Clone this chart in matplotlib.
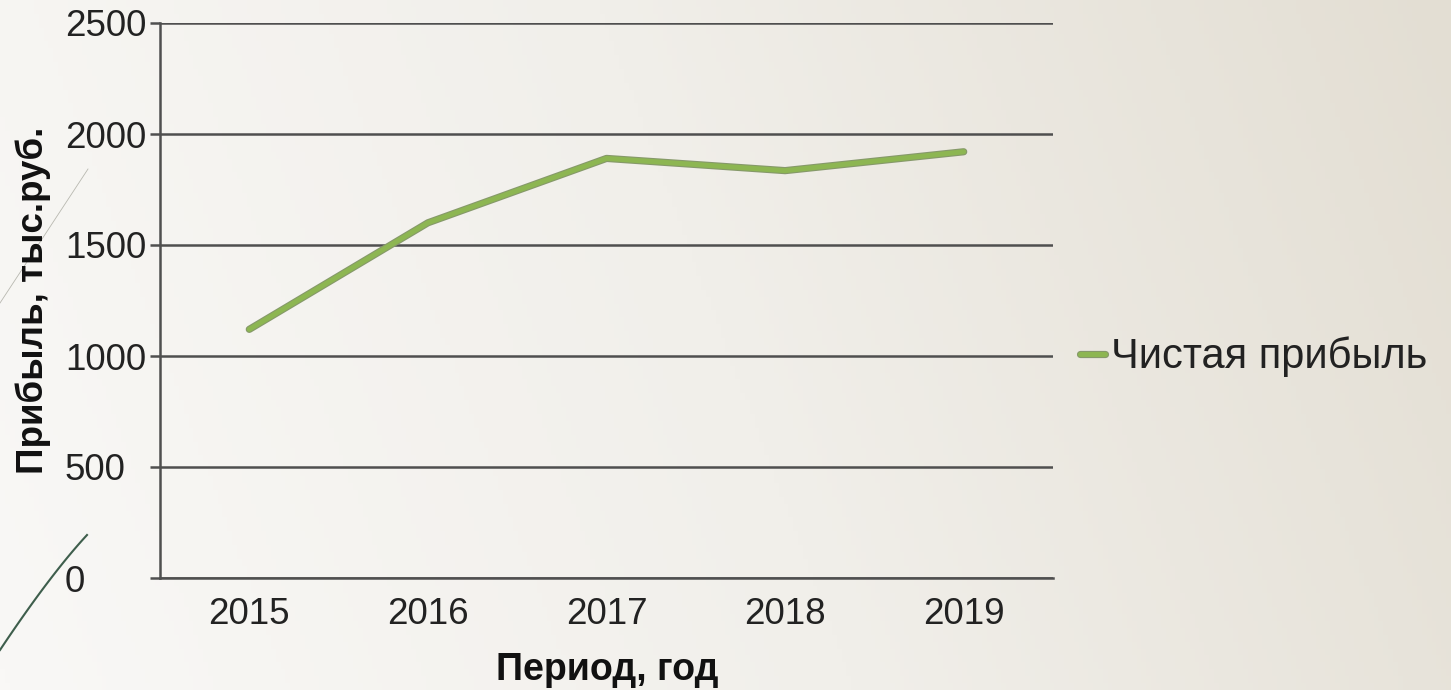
import numpy as np
import matplotlib
matplotlib.use("Agg")
import matplotlib.pyplot as plt
import matplotlib.patheffects as pe
from matplotlib.colors import LinearSegmentedColormap

years = ["2015", "2016", "2017", "2018", "2019"]
profit = [1120, 1600, 1890, 1835, 1920]
series_name = "Чистая прибыль"
x_label = "Период, год"
y_label = "Прибыль, тыс.руб."
y_ticks = [0, 500, 1000, 1500, 2000, 2500]

plt.rcParams['font.family'] = ['Liberation Sans', 'DejaVu Sans']

W, H = 1451, 690
fig = plt.figure(figsize=(W / 100, H / 100), dpi=100)

# background gradient
bg = fig.add_axes([0, 0, 1, 1], zorder=-10)
gx = np.linspace(0, 1, 300)
gy = np.linspace(0, 1, 100)
GX, GY = np.meshgrid(gx, gy)
grad = 0.85 * GX + 0.15 * (1 - GY)
cmap = LinearSegmentedColormap.from_list("bgc", ["#F9F8F6", "#F1EFEA", "#E3DED3"])
bg.imshow(grad, cmap=cmap, aspect="auto", extent=[0, 1, 0, 1], origin="upper")
bg.set_xlim(0, 1)
bg.set_ylim(0, 1)
bg.axis("off")
# decorative slide lines
bg.plot([0, 88 / W], [1 - 303 / H, 1 - 169 / H], color="#B8B8B0", lw=0.6)
t = np.linspace(0, 1, 50)
p0 = np.array([0, 650.0]); p1 = np.array([50, 575.0]); p2 = np.array([87, 535.0])
curve = ((1 - t) ** 2)[:, None] * p0 + (2 * (1 - t) * t)[:, None] * p1 + (t ** 2)[:, None] * p2
bg.plot(curve[:, 0] / W, 1 - curve[:, 1] / H, color="#3E5E4C", lw=1.5)

ax = fig.add_axes([160 / W, 1 - 578 / H, (1053 - 160) / W, (578 - 23) / H])
ax.set_facecolor("none")
xs = np.arange(len(years))
line, = ax.plot(xs, profit, color="#8DB652", lw=3.6, solid_capstyle="round", solid_joinstyle="round",
                path_effects=[pe.Stroke(linewidth=5.2, foreground="#86996A"), pe.Normal()],
                label=series_name, zorder=5)

ax.set_xlim(-0.5, len(years) - 0.5)
ax.set_ylim(0, 2500)
ax.set_yticks(y_ticks)
ax.set_yticklabels([str(v) for v in y_ticks], ha="left")
ax.set_xticks(xs)
ax.set_xticklabels(years)
ax.yaxis.grid(True, color="#4F4F4F", lw=1.8)
ax.set_axisbelow(True)
for s in ["top", "right"]:
    ax.spines[s].set_visible(False)
for s in ["left", "bottom"]:
    ax.spines[s].set_color("#4F4F4F")
    ax.spines[s].set_linewidth(1.8)
ax.tick_params(axis="y", length=7.5, width=1.8, color="#4F4F4F", labelsize=26.5, pad=61, labelcolor="#222222")
ax.tick_params(axis="x", length=0, labelsize=26.5, pad=14, labelcolor="#222222")

fig.text(33 / W, 1 - 300 / H, y_label, rotation=90, ha="center", va="center",
         fontsize=26.5, fontweight="bold", color="#111111")
fig.text(607 / W, 1 - 670 / H, x_label, ha="center", va="center",
         fontsize=27, fontweight="bold", color="#111111")

leg = fig.legend(handles=[line], labels=[series_name], loc="center left",
                 bbox_to_anchor=(1080 / W, 1 - 357 / H), frameon=False, fontsize=30,
                 handlelength=0.6, handletextpad=0.15, borderpad=0, borderaxespad=0,
                 labelcolor="#222222")

fig.savefig("out.png", dpi=100)
